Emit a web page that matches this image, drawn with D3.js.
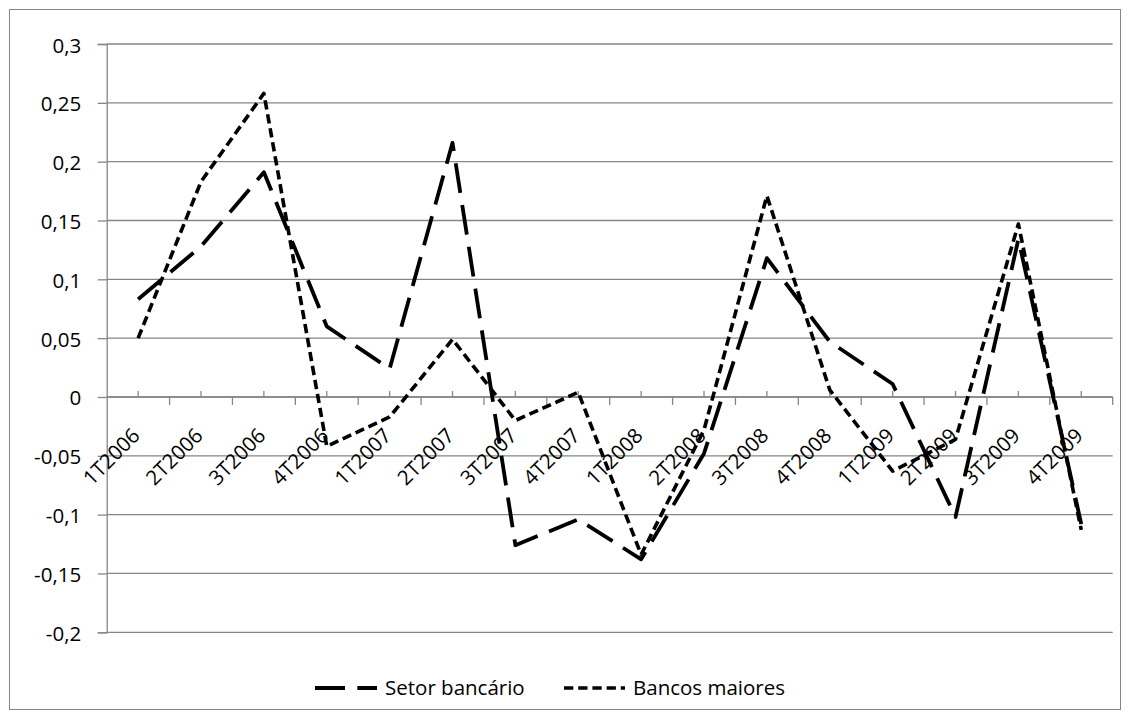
<!DOCTYPE html>
<html>
<head>
<meta charset="utf-8">
<script src="https://cdn.jsdelivr.net/npm/d3@7"></script>
<style>
  html, body { margin: 0; padding: 0; background: #fff; }
  svg text { font-family: "Open Sans", "Liberation Sans", sans-serif; fill: #000; }
</style>
</head>
<body>
<svg id="chart" width="1131" height="720"></svg>
<script>
// Quarterly series (trimestres 2006–2009)
const quarters = ["1T2006","2T2006","3T2006","4T2006","1T2007","2T2007","3T2007","4T2007",
                  "1T2008","2T2008","3T2008","4T2008","1T2009","2T2009","3T2009","4T2009"];
const setorBancario = [0.083, 0.128, 0.191, 0.060, 0.024, 0.216, -0.126, -0.104,
                       -0.138, -0.048, 0.118, 0.047, 0.011, -0.102, 0.134, -0.108];
const bancosMaiores = [0.050, 0.183, 0.258, -0.042, -0.017, 0.049, -0.020, 0.004,
                       -0.134, -0.028, 0.171, 0.006, -0.063, -0.036, 0.147, -0.113];
const yTicks = [-0.2, -0.15, -0.1, -0.05, 0, 0.05, 0.1, 0.15, 0.2, 0.25, 0.3];
const seriesNames = ["Setor bancário", "Bancos maiores"];

const svg = d3.select("#chart");
const plot = { left: 106.7, right: 1112.7, top: 44, bottom: 632.3 };
const fontSize = 20.5;
const gridColor = "#868686";

// Chart border
svg.append("rect")
  .attr("x", 9.5).attr("y", 9.5).attr("width", 1111).attr("height", 700)
  .attr("fill", "#fff").attr("stroke", gridColor).attr("stroke-width", 1);

const x = d3.scaleBand().domain(quarters).range([plot.left, plot.right]).padding(0);
const cx = q => x(q) + x.bandwidth() / 2;
const y = d3.scaleLinear().domain([-0.2, 0.3]).range([plot.bottom, plot.top]);

// Brazilian number format: decimal comma, plain hyphen for negatives
const ptBR = d3.formatLocale({ decimal: ",", thousands: ".", grouping: [3], currency: ["R$ ", ""], minus: "-" });
const fmt = ptBR.format("");

// Horizontal gridlines
svg.append("g").selectAll("line").data(yTicks).join("line")
  .attr("x1", plot.left).attr("x2", plot.right)
  .attr("y1", d => y(d)).attr("y2", d => y(d))
  .attr("stroke", gridColor).attr("stroke-width", 1.3);

// Vertical axis with outward ticks
const yAxis = svg.append("g")
  .attr("transform", `translate(${plot.left},0)`)
  .call(d3.axisLeft(y).tickValues(yTicks).tickFormat(fmt).tickSize(9).tickPadding(16.5));
yAxis.attr("font-family", null);
yAxis.select(".domain").attr("stroke", gridColor).attr("stroke-width", 1.3);
yAxis.selectAll(".tick line").attr("stroke", gridColor).attr("stroke-width", 1.3);
yAxis.selectAll(".tick text")
  .attr("font-size", fontSize)
  .attr("dy", null).attr("y", 8);

// Horizontal category axis at zero
const y0 = y(0);
const xAxis = svg.append("g");
xAxis.append("line")
  .attr("x1", plot.left).attr("x2", plot.right).attr("y1", y0).attr("y2", y0)
  .attr("stroke", gridColor).attr("stroke-width", 1.3);
// ticks at category centres (above) and category boundaries (below)
xAxis.selectAll("line.c").data(quarters).join("line").attr("class", "c")
  .attr("x1", d => cx(d)).attr("x2", d => cx(d))
  .attr("y1", y0 - 6).attr("y2", y0)
  .attr("stroke", gridColor).attr("stroke-width", 1.3);
xAxis.selectAll("line.b").data(quarters).join("line").attr("class", "b")
  .attr("x1", d => x(d) + x.bandwidth()).attr("x2", d => x(d) + x.bandwidth())
  .attr("y1", y0).attr("y2", y0 + 8)
  .attr("stroke", gridColor).attr("stroke-width", 1.3);
xAxis.selectAll("text").data(quarters).join("text")
  .attr("transform", d => `translate(${cx(d) + 3},${437}) rotate(-45)`)
  .attr("text-anchor", "end")
  .attr("font-size", fontSize)
  .text(d => d);

// Series lines
const line = d3.line().x((d, i) => cx(quarters[i])).y(d => y(d));
const styles = [
  { data: setorBancario, dash: "30,12.3", width: 3.8 },
  { data: bancosMaiores, dash: "9.3,4.9", width: 3.6 }
];
styles.forEach(s => {
  svg.append("path")
    .datum(s.data)
    .attr("d", line)
    .attr("fill", "none")
    .attr("stroke", "#000")
    .attr("stroke-width", s.width)
    .attr("stroke-dasharray", s.dash)
    .attr("stroke-linejoin", "round");
});

// Legend
const legendY = 688;
const legendItems = [
  { name: seriesNames[0], x1: 315, x2: 377, tx: 385, style: styles[0] },
  { name: seriesNames[1], x1: 564, x2: 625, tx: 633, style: styles[1] }
];
const lg = svg.append("g");
legendItems.forEach(it => {
  lg.append("line")
    .attr("x1", it.x1).attr("x2", it.x2).attr("y1", legendY).attr("y2", legendY)
    .attr("stroke", "#000").attr("stroke-width", it.style.width)
    .attr("stroke-dasharray", it.style.dash);
  lg.append("text")
    .attr("x", it.tx).attr("y", legendY + 7)
    .attr("font-size", fontSize)
    .text(it.name);
});
</script>
</body>
</html>
